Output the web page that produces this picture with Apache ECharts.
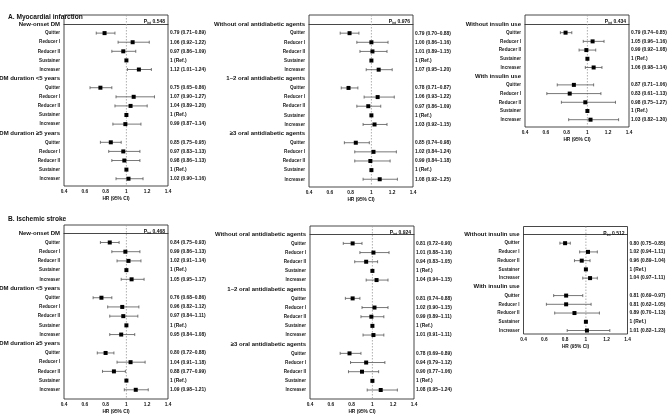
<!DOCTYPE html>
<html><head><meta charset="utf-8">
<script src="https://cdn.jsdelivr.net/npm/echarts@6/dist/echarts.min.js"></script>
<style>html,body{margin:0;padding:0;background:#fff}#c{width:669px;height:416px}</style>
</head><body><div id="c"></div>
<script>
const rowLabels = ['Quitter','Reducer I','Reducer II','Sustainer','Increaser'];
const xTicks = [0.4, 0.6, 0.8, 1, 1.2, 1.4];

// A. Myocardial infarction
const groupsA1 = ['New-onset DM','DM duration <5 years','DM duration \u22655 years'];
const hrA1 = [0.79,1.06,0.97,1,1.12, 0.75,1.07,1.04,1,0.99, 0.85,0.97,0.98,1,1.02];
const loA1 = [0.71,0.92,0.86,null,1.01, 0.65,0.90,0.89,null,0.87, 0.75,0.83,0.86,null,0.90];
const hiA1 = [0.89,1.22,1.09,null,1.24, 0.86,1.27,1.20,null,1.14, 0.95,1.13,1.13,null,1.16];
const pA1 = '0.548';

const groupsA2 = ['Without oral antidiabetic agents','1\u20132 oral antidiabetic agents','\u22653 oral antidiabetic agents'];
const hrA2 = [0.79,1.00,1.01,1,1.07, 0.78,1.06,0.97,1,1.03, 0.85,1.02,0.99,1,1.08];
const loA2 = [0.70,0.86,0.89,null,0.95, 0.71,0.93,0.86,null,0.92, 0.74,0.84,0.84,null,0.92];
const hiA2 = [0.88,1.16,1.15,null,1.20, 0.87,1.22,1.09,null,1.15, 0.98,1.24,1.18,null,1.25];
const pA2 = '0.976';

const groupsA3 = ['Without insulin use','With insulin use'];
const hrA3 = [0.79,1.05,0.99,1,1.06, 0.87,0.83,0.98,1,1.03];
const loA3 = [0.74,0.96,0.92,null,0.98, 0.71,0.61,0.75,null,0.82];
const hiA3 = [0.85,1.16,1.08,null,1.14, 1.06,1.13,1.27,null,1.30];
const pA3 = '0.434';

// B. Ischemic stroke
const groupsB1 = groupsA1;
const hrB1 = [0.84,0.99,1.02,1,1.05, 0.76,0.96,0.97,1,0.95, 0.80,1.04,0.88,1,1.09];
const loB1 = [0.75,0.86,0.91,null,0.95, 0.68,0.82,0.84,null,0.84, 0.72,0.91,0.77,null,0.98];
const hiB1 = [0.93,1.13,1.14,null,1.17, 0.86,1.12,1.11,null,1.08, 0.88,1.18,0.99,null,1.21];
const pB1 = '0.468';

const groupsB2 = groupsA2;
const hrB2 = [0.81,1.01,0.94,1,1.04, 0.81,1.02,0.99,1,1.01, 0.78,0.94,0.90,1,1.08];
const loB2 = [0.72,0.88,0.83,null,0.94, 0.74,0.90,0.89,null,0.91, 0.69,0.79,0.77,null,0.95];
const hiB2 = [0.90,1.16,1.05,null,1.15, 0.88,1.15,1.11,null,1.11, 0.89,1.12,1.06,null,1.24];
const pB2 = '0.924';

const groupsB3 = groupsA3;
const hrB3 = [0.80,1.02,0.96,1,1.04, 0.81,0.81,0.89,1,1.01];
const loB3 = [0.75,0.94,0.89,null,0.97, 0.69,0.62,0.70,null,0.82];
const hiB3 = [0.85,1.11,1.04,null,1.11, 0.97,1.05,1.13,null,1.23];
const pB3 = '0.512';

const FONT = "'Liberation Sans', Arial, sans-serif";

function buildRows(groups, hr, lo, hi) {
  const rows = []; let idx = 0;
  groups.forEach((g, gi) => {
    rows.push({h: true, text: g, idx: idx++});
    rowLabels.forEach((lab, k) => {
      const j = gi * 5 + k;
      rows.push({h: false, text: lab, idx: idx++, hr: hr[j], lo: lo[j], hi: hi[j]});
    });
  });
  return rows;
}

const panels = [
  {grid: {left: 64, top: 15, width: 104, height: 171}, yMin: -0.99, yMax: 17.8, rows: buildRows(groupsA1, hrA1, loA1, hiA1), p: pA1},
  {grid: {left: 309, top: 15, width: 104, height: 172}, yMin: -0.99, yMax: 17.85, rows: buildRows(groupsA2, hrA2, loA2, hiA2), p: pA2},
  {grid: {left: 525, top: 15, width: 104, height: 112}, yMin: -1.03, yMax: 11.84, rows: buildRows(groupsA3, hrA3, loA3, hiA3), p: pA3},
  {grid: {left: 64, top: 225, width: 104, height: 174}, yMin: -0.9, yMax: 18.0, rows: buildRows(groupsB1, hrB1, loB1, hiB1), p: pB1},
  {grid: {left: 310, top: 226, width: 104, height: 173}, yMin: -0.9, yMax: 17.98, rows: buildRows(groupsB2, hrB2, loB2, hiB2), p: pB2},
  {grid: {left: 523.5, top: 226.5, width: 104, height: 107.5}, yMin: -0.91, yMax: 11.4, rows: buildRows(groupsB3, hrB3, loB3, hiB3), p: pB3}
];

function fmt(r) {
  if (r.lo == null) return '1 (Ref.)';
  return r.hr.toFixed(2) + ' (' + r.lo.toFixed(2) + '\u2013' + r.hi.toFixed(2) + ')';
}

function makeRender(panel) {
  return function (params, api) {
    const r = panel.rows[params.dataIndex];
    const cs = params.coordSys;
    const y = api.coord([1, r.idx])[1];
    const children = [];
    if (params.dataIndex === 0) {
      const x1 = api.coord([1, 0])[0];
      children.push({type: 'line', z2: 0, shape: {x1: x1, y1: cs.y, x2: x1, y2: cs.y + cs.height},
        style: {stroke: '#9a9a9a', lineWidth: 0.8, lineDash: [1.5, 1.5]}});
      children.push({type: 'text', z2: 5, style: {
        text: '{p|P}{s|int}{p| ' + panel.p + '}', x: cs.x + cs.width - 3, y: cs.y + 4,
        align: 'right', verticalAlign: 'top',
        rich: {p: {fontSize: 5, fontFamily: FONT, fill: '#111', fontWeight: 'bold'},
               s: {fontSize: 3.2, fontFamily: FONT, fill: '#111', fontWeight: 'bold', verticalAlign: 'bottom', padding: [3, 0, 0, 0]}}
      }});
    }
    if (r.h) {
      children.push({type: 'text', style: {text: r.text, x: cs.x - 4, y: y, align: 'right', verticalAlign: 'middle',
        fontSize: 6, fontWeight: 'bold', fontFamily: FONT, fill: '#111'}});
    } else {
      children.push({type: 'text', style: {text: r.text, x: cs.x - 4, y: y, align: 'right', verticalAlign: 'middle',
        fontSize: 4.6, fontWeight: 'bold', fontFamily: FONT, fill: '#222'}});
      children.push({type: 'text', style: {text: fmt(r), x: cs.x + cs.width + 2, y: y, align: 'left', verticalAlign: 'middle',
        fontSize: 4.9, fontWeight: 'bold', fontFamily: FONT, fill: '#111'}});
      if (r.lo != null) {
        const a = api.coord([r.lo, r.idx]);
        const b = api.coord([r.hi, r.idx]);
        const st = {stroke: '#555', lineWidth: 0.8};
        children.push({type: 'line', z2: 2, shape: {x1: a[0], y1: y, x2: b[0], y2: y}, style: st});
        children.push({type: 'line', z2: 2, shape: {x1: a[0], y1: y - 1.5, x2: a[0], y2: y + 1.5}, style: st});
        children.push({type: 'line', z2: 2, shape: {x1: b[0], y1: y - 1.5, x2: b[0], y2: y + 1.5}, style: st});
      }
      const c = api.coord([r.hr, r.idx]);
      children.push({type: 'rect', z2: 3, shape: {x: c[0] - 2, y: y - 2, width: 4, height: 4}, style: {fill: '#000'}});
    }
    return {type: 'group', children: children};
  };
}

const option = {
  backgroundColor: '#fff',
  animation: false,
  title: [
    {text: 'A. Myocardial infarction', left: 3, top: 9, textStyle: {fontSize: 6.6, fontWeight: 'bold', fontFamily: FONT, color: '#111'}},
    {text: 'B. Ischemic stroke', left: 3, top: 211, textStyle: {fontSize: 6.6, fontWeight: 'bold', fontFamily: FONT, color: '#111'}}
  ],
  grid: panels.map(p => Object.assign({show: true, borderColor: '#333', borderWidth: 0.9, backgroundColor: 'transparent'}, p.grid)),
  xAxis: panels.map((p, i) => ({
    type: 'value', gridIndex: i, min: xTicks[0], max: xTicks[xTicks.length - 1], interval: 0.2,
    name: 'HR (95% CI)', nameLocation: 'middle', nameGap: 10,
    nameTextStyle: {fontSize: 4.8, fontWeight: 'bold', fontFamily: FONT, color: '#111'},
    axisLine: {show: true, lineStyle: {color: '#333', width: 0.9}},
    axisTick: {show: false},
    splitLine: {show: false},
    axisLabel: {fontSize: 4.8, fontWeight: 'bold', fontFamily: FONT, color: '#111', margin: 3,
      formatter: v => (Math.abs(v - 1) < 1e-9 ? '1' : v.toFixed(1))}
  })),
  yAxis: panels.map((p, i) => ({
    type: 'value', gridIndex: i, inverse: true, min: p.yMin, max: p.yMax,
    axisLine: {show: false}, axisTick: {show: false}, axisLabel: {show: false}, splitLine: {show: false}
  })),
  series: panels.map((p, i) => ({
    type: 'custom', xAxisIndex: i, yAxisIndex: i, clip: false,
    renderItem: makeRender(p),
    data: p.rows.map(r => [r.h ? 1 : r.hr, r.idx])
  }))
};

const chart = echarts.init(document.getElementById('c'), null, {renderer: 'canvas'});
chart.setOption(option);
</script>
</body></html>
